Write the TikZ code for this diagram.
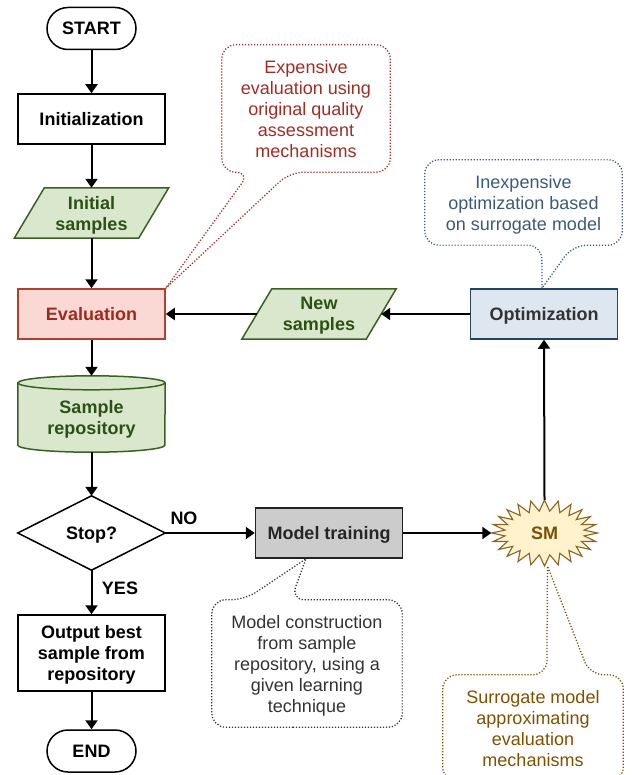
\documentclass[tikz,border=0pt]{standalone}
\usepackage{fontspec}
\setmainfont{Liberation Sans}
\usetikzlibrary{arrows.meta,calc,backgrounds,shapes.geometric}
\definecolor{evalfill}{HTML}{FAD9D5}
\definecolor{evalline}{HTML}{AE4132}
\definecolor{evaltext}{HTML}{9E2A1E}
\definecolor{greenfill}{HTML}{D9E8CD}
\definecolor{greenline}{HTML}{3A6124}
\definecolor{greentext}{HTML}{2D5016}
\definecolor{optfill}{HTML}{DEE6EF}
\definecolor{optline}{HTML}{23445D}
\definecolor{opttext}{HTML}{333333}
\definecolor{mtfill}{HTML}{CCCCCC}
\definecolor{mtline}{HTML}{222222}
\definecolor{smfill}{HTML}{FFF2CC}
\definecolor{smline}{HTML}{8C6420}
\definecolor{smtext}{HTML}{7A4F0A}
\definecolor{cored}{HTML}{9E2E24}
\definecolor{coblue}{HTML}{3B5A75}
\definecolor{cogray}{HTML}{333333}
\definecolor{cobrown}{HTML}{7F5000}
\begin{document}
\begin{tikzpicture}[x=1pt,y=-1pt,
  every node/.style={font=\fontsize{18}{21}\selectfont, align=center, inner sep=0pt, text depth=0pt},
  bf/.style={font=\fontsize{18}{21}\selectfont\bfseries},
  box/.style={bf, draw, line width=1.5pt, minimum width=147pt, minimum height=50pt},
  term/.style={bf, draw, line width=1.5pt, rounded corners=21pt, minimum width=89pt, minimum height=42pt},
  ghost/.style={bf, minimum width=#1},
  evalbox/.style={box, draw=evalline, fill=evalfill, text=evaltext},
  optbox/.style={box, draw=optline, fill=optfill, text=opttext},
  mtbox/.style={box, draw=mtline, fill=mtfill, text=black!85},
  greenshape/.style={draw=greenline, fill=greenfill, line width=1.5pt},
  conn/.style={line width=2pt, -{Triangle[width=12pt,length=9pt]}},
  lbl/.style={bf},
  dotline/.style={line width=1.3pt, dash pattern=on 1.2pt off 1.8pt, rounded corners=14pt},
]
\useasboundingbox (0,0) rectangle (631,775);

% main nodes
\node[term] (start) at (91.5,28.5) {START};
\node[box] (init) at (91.5,119) {Initialization};
\node[ghost=154pt, minimum height=50pt, text=greentext] (isamp) at (91.5,213) {Initial\\samples};
\node[evalbox] (eval) at (91.5,314) {Evaluation};
\node[ghost=147pt, minimum height=76pt, text=greentext, text height=41pt] (repo) at (91.5,414) {Sample\\repository};
\node[ghost=147pt, minimum height=74pt] (stop) at (91.5,533) {Stop?};
\node[box, minimum height=76pt] (out) at (91.5,653) {Output best\\sample from\\repository};
\node[term] (end) at (91.5,751) {END};
\node[ghost=154pt, minimum height=50pt, text=greentext] (new) at (319,314) {New\\samples};
\node[optbox] (opt) at (544,314) {Optimization};
\node[mtbox] (mt) at (329,533) {Model training};
\node[bf, ellipse, minimum width=106pt, minimum height=66pt, text=smtext] (sm) at (544.5,533) {SM};

\node[lbl] (no) at (184,518) {NO};
\node[lbl] (yes) at (120,588) {YES};

% shapes behind text
\begin{scope}[on background layer]
  \draw[greenshape] ($(isamp.north west)+(30,0)$) -- (isamp.north east) -- ($(isamp.south east)+(-30,0)$) -- (isamp.south west) -- cycle;
  \draw[greenshape] ($(new.north west)+(30,0)$) -- (new.north east) -- ($(new.south east)+(-30,0)$) -- (new.south west) -- cycle;
  \draw[greenshape] ($(repo.north west)+(0,7)$) -- ($(repo.south west)+(0,-7)$)
     arc[start angle=180, end angle=360, x radius=73.5pt, y radius=7pt]
     -- ($(repo.north east)+(0,7)$)
     arc[start angle=0, end angle=180, x radius=73.5pt, y radius=7pt] -- cycle;
  \draw[draw=greenline, line width=1.5pt] ($(repo.north west)+(0,7)$)
     arc[start angle=180, end angle=360, x radius=73.5pt, y radius=7pt];
  \draw[line width=1.5pt, fill=white] (stop.west) -- (stop.north) -- (stop.east) -- (stop.south) -- cycle;
  \draw[draw=smline, fill=smfill, line width=1.1pt, shift={(sm.center)}]
     plot[samples=49, domain=0:360, variable=\t]
     ({(46.5+6.5*cos(24*\t))*cos(\t)}, {(27.5+5.5*cos(24*\t))*sin(\t)}) -- cycle;
\end{scope}

% callouts
\node[text=cored, minimum width=168pt, minimum height=127pt] (c1) at (306,108.5)
  {Expensive\\evaluation using\\original quality\\assessment\\mechanisms};
\node[text=coblue, minimum width=197pt, minimum height=85pt] (c2) at (523.5,202.5)
  {Inexpensive\\optimization based\\on surrogate model};
\node[text=cogray, minimum width=190pt, minimum height=127pt] (c3) at (307,663.5)
  {Model construction\\from sample\\repository, using a\\given learning\\technique};
\node[text=cobrown, minimum width=180pt, minimum height=106pt] (c4) at (533,728)
  {Surrogate model\\approximating\\evaluation\\mechanisms};

\draw[dotline, draw=cored] (c1.north) -- (c1.north east) -- (c1.south east)
  -- ($(c1.south west)+(68,0)$) [sharp corners] -- (eval.north east) [rounded corners=14pt]
  -- ($(c1.south west)+(28,0)$) -- (c1.south west) -- (c1.north west) -- cycle;
\draw[dotline, draw=coblue] (c2.north) -- (c2.north east) -- (c2.south east)
  -- ($(c2.south west)+(148,0)$) [sharp corners] -- ($(opt.north)+(-2,0)$) [rounded corners=14pt]
  -- ($(c2.south west)+(117,0)$) -- (c2.south west) -- (c2.north west) -- cycle;
\draw[dotline, draw=cogray] (c3.south) -- (c3.south west) -- (c3.north west)
  -- ($(c3.north west)+(33,0)$) [sharp corners] -- ($(mt.south)+(-23,0)$) [rounded corners=14pt]
  -- ($(c3.north west)+(79,0)$) -- (c3.north east) -- (c3.south east) -- cycle;
\draw[dotline, draw=cobrown] (c4.south) -- (c4.south west) -- (c4.north west)
  -- ($(c4.north west)+(104,0)$) [sharp corners] -- ($(sm.south)+(3,0)$) [rounded corners=14pt]
  -- ($(c4.north west)+(147,0)$) -- (c4.north east) -- (c4.south east) -- cycle;

% connectors
\draw[conn] (start) -- (init);
\draw[conn] (init) -- (isamp);
\draw[conn] (isamp) -- (eval);
\draw[conn] (eval) -- (repo);
\draw[conn] (repo) -- (stop);
\draw[conn] (stop) -- (out);
\draw[conn] (out) -- (end);
\draw[conn] (stop.east) -- (mt.west);
\draw[conn] (mt.east) -- (sm.west);
\draw[conn] (sm.north) -- (opt.south);
\draw[conn] (opt.west) -- ($(new.east)+(-15,0)$);
\draw[conn] ($(new.west)+(15,0)$) -- (eval.east);
\end{tikzpicture}
\end{document}
